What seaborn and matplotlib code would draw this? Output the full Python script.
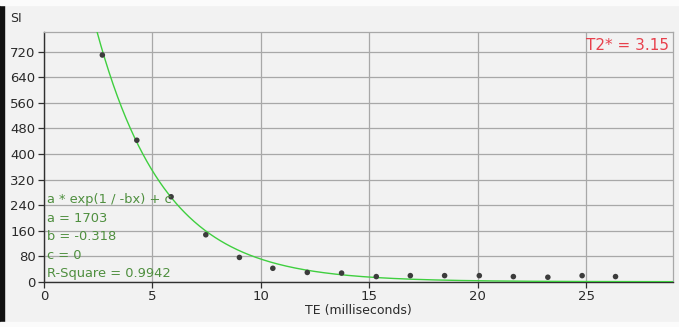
import numpy as np
import pandas as pd
import matplotlib
matplotlib.use("Agg")
import matplotlib.pyplot as plt
from matplotlib.patches import Rectangle
import seaborn as sns

# Measured signal intensity at each echo time
te_ms = [2.69, 4.28, 5.86, 7.46, 9.01, 10.55, 12.14, 13.72, 15.32, 16.89,
         18.47, 20.07, 21.64, 23.23, 24.81, 26.35]
si = [710, 443, 266, 147, 76, 42, 29, 27, 16, 19, 19, 19, 16, 14, 19, 16]

# Fit parameters: SI = a * exp(1 / -b x) + c
fit_a = 1703
fit_b = -0.318
fit_c = 0
r_square = 0.9942
t2_star = 3.15

x_ticks = [0, 5, 10, 15, 20, 25]
y_ticks = [0, 80, 160, 240, 320, 400, 480, 560, 640, 720]

bg = "#f2f2f2"
grid_col = "#a8a8a8"
fit_green = "#3fcf3f"
text_green = "#4f8f3f"

sns.set_theme(style="white")
plt.rcParams["font.family"] = ["DejaVu Sans"]

fig = plt.figure(figsize=(6.79, 3.27), dpi=100, facecolor=bg)
ax = fig.add_axes([44 / 679, 1 - 281.7 / 327, (673 - 44) / 679, (281.7 - 31.7) / 327])
ax.set_facecolor(bg)

points = pd.DataFrame({"TE": te_ms, "SI": si})
xs = np.linspace(0, 29, 600)
curve = pd.DataFrame({"TE": xs, "SI": fit_a * np.exp(fit_b * xs) + fit_c})

sns.lineplot(data=curve, x="TE", y="SI", ax=ax, color=fit_green, lw=1.0, zorder=3)
sns.scatterplot(data=points, x="TE", y="SI", ax=ax, color="#3c3c3c", s=16,
                edgecolor="none", zorder=4)

ax.set_xlim(0, 29)
ax.set_ylim(0, 783)
ax.set_xticks(x_ticks)
ax.set_yticks(y_ticks)
ax.grid(True, color=grid_col, lw=0.9)
ax.set_axisbelow(True)

for side in ("top", "right"):
    ax.spines[side].set_color(grid_col)
    ax.spines[side].set_linewidth(0.9)
for side in ("left", "bottom"):
    ax.spines[side].set_color("#303030")
    ax.spines[side].set_linewidth(1.0)

ax.tick_params(axis="both", which="both", direction="out", length=4, width=0.9,
               color="#303030", labelsize=9.5, labelcolor="#2a2a2a", pad=2,
               left=True, bottom=True)
ax.set_xlabel("TE (milliseconds)", fontsize=9, color="#2a2a2a", labelpad=1)
ax.set_ylabel("")

fig.text(10 / 679, 1 - 18 / 327, "SI", fontsize=9, color="#2a2a2a",
         va="center", ha="left")

ax.text(0.9935, 0.975, f"T2* = {t2_star}", transform=ax.transAxes,
        ha="right", va="top", fontsize=11, color="#e8404c")

fit_lines = [
    "a * exp(1 / -bx) + c",
    f"a = {fit_a}",
    f"b = {fit_b}",
    f"c = {fit_c}",
    f"R-Square = {r_square}",
]
y0 = 200
for i, line in enumerate(fit_lines):
    fig.text(47 / 679, 1 - (y0 + i * 18.5) / 327, line, fontsize=9.4,
             color=text_green, ha="left", va="center", zorder=5)

# dark frame edge on the left and pale strips top and bottom
fig.patches.append(Rectangle((0, 5 / 327), 4 / 679, 317 / 327,
                             transform=fig.transFigure, color="#111111"))
fig.patches.append(Rectangle((0, 1 - 5 / 327), 1, 5 / 327,
                             transform=fig.transFigure, color="#fbfbfb"))
fig.patches.append(Rectangle((0, 0), 1, 5 / 327,
                             transform=fig.transFigure, color="#fbfbfb"))

fig.savefig("out.png", dpi=100, facecolor=bg)
